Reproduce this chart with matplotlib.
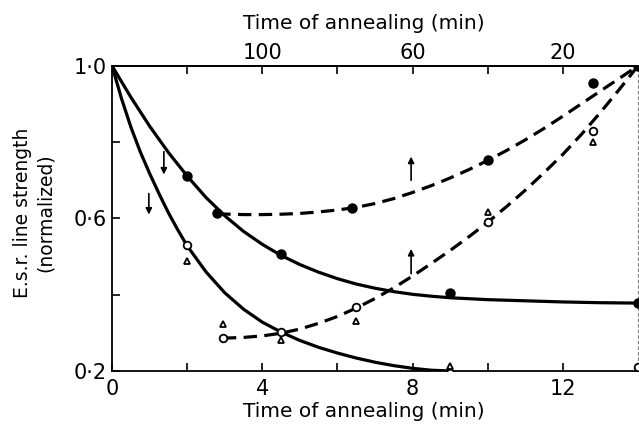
import matplotlib
matplotlib.use("Agg")
import matplotlib.pyplot as plt

# ---- data ----
# solid decay curves
solid_upper_x = [0, 0.5, 1, 1.5, 2, 2.5, 3, 3.5, 4, 4.5, 5, 5.5, 6, 6.5, 7, 7.5, 8, 8.5, 9, 10, 11, 12, 13, 14]
solid_upper_y = [1.0, 0.918, 0.842, 0.773, 0.711, 0.655, 0.607, 0.566, 0.532, 0.503, 0.479, 0.459,
                 0.442, 0.428, 0.417, 0.408, 0.401, 0.396, 0.392, 0.387, 0.384, 0.381, 0.379, 0.378]
solid_lower_x = [0, 0.25, 0.5, 0.75, 1, 1.25, 1.5, 1.75, 2, 2.5, 3, 3.5, 4, 4.5, 5, 5.5, 6, 6.5, 7,
                 7.5, 8, 8.5, 9]
solid_lower_y = [1.0, 0.915, 0.84, 0.775, 0.718, 0.665, 0.615, 0.57, 0.528, 0.46, 0.405, 0.362, 0.328,
                 0.302, 0.28, 0.262, 0.247, 0.234, 0.223, 0.214, 0.207, 0.202, 0.2]
# dashed recovery curves
dash_upper_x = [2.8, 3.5, 4, 4.5, 5, 5.5, 6, 6.5, 7, 7.5, 8, 8.5, 9, 9.5, 10, 10.5, 11, 11.5, 12,
                12.5, 13, 13.5, 14]
dash_upper_y = [0.612, 0.61, 0.61, 0.611, 0.613, 0.617, 0.622, 0.629, 0.639, 0.652, 0.668, 0.686,
                0.706, 0.728, 0.752, 0.778, 0.806, 0.836, 0.868, 0.901, 0.934, 0.967, 1.0]
dash_lower_x = [2.95, 3.5, 4, 4.5, 5, 5.5, 6, 6.5, 7, 7.5, 8, 8.5, 9, 9.5, 10, 10.5, 11, 11.5, 12,
                12.5, 13, 13.5, 14]
dash_lower_y = [0.286, 0.288, 0.292, 0.299, 0.31, 0.325, 0.343, 0.365, 0.39, 0.418, 0.449, 0.482,
                0.516, 0.552, 0.59, 0.631, 0.674, 0.72, 0.768, 0.821, 0.878, 0.938, 1.0]
# measured points
filled_x = [2.0, 2.8, 4.5, 9.0, 14.0, 6.4, 10.0, 12.8, 14.0]
filled_y = [0.711, 0.614, 0.507, 0.404, 0.378, 0.627, 0.752, 0.955, 1.0]
open_x = [2.0, 4.5, 9.0, 14.0, 2.95, 6.5, 10.0, 12.8]
open_y = [0.53, 0.302, 0.195, 0.21, 0.286, 0.367, 0.59, 0.83]
tri_x = [2.0, 2.95, 4.5, 6.5, 9.0, 10.0, 12.8]
tri_y = [0.488, 0.323, 0.28, 0.33, 0.213, 0.617, 0.80]
# arrows: (x, y_start, y_end)
arrows = [(1.38, 0.775, 0.715), (0.98, 0.665, 0.61), (7.96, 0.70, 0.762), (7.96, 0.455, 0.52)]

x_ticks = [0, 2, 4, 6, 8, 10, 12]
x_tick_labels = ['0', '', '4', '', '8', '', '12']
y_ticks = [0.2, 0.4, 0.6, 0.8, 1.0]
y_tick_labels = ['0·2', '', '0·6', '', '1·0']
top_ticks = [120, 100, 80, 60, 40, 20]
top_tick_labels = ['', '100', '', '60', '', '20']

plt.rcParams['font.family'] = ['DejaVu Sans']

fig = plt.figure(figsize=(6.39, 4.28), dpi=100)
ax = fig.add_axes([0.1753, 0.1332, 0.8247 - 0.0015, 0.713])

lw = 2.3
ax.plot(solid_upper_x, solid_upper_y, color='black', lw=lw, solid_capstyle='round', solid_joinstyle='round')
ax.plot(solid_lower_x, solid_lower_y, color='black', lw=lw, solid_capstyle='round', solid_joinstyle='round')
ax.plot(dash_upper_x, dash_upper_y, color='black', lw=lw, linestyle=(0, (4.2, 2.3)))
ax.plot(dash_lower_x, dash_lower_y, color='black', lw=lw, linestyle=(0, (4.2, 2.3)))

ax.plot(filled_x, filled_y, 'o', color='black', ms=6.5, zorder=5)
ax.plot(open_x, open_y, 'o', mfc='white', mec='black', mew=1.3, ms=5.5, zorder=5)
ax.plot(tri_x, tri_y, '^', mfc='white', mec='black', mew=1.3, ms=4.5, zorder=5)

for xa, y0, y1 in arrows:
    ax.annotate('', xy=(xa, y1), xytext=(xa, y0),
                arrowprops=dict(arrowstyle='-|>', color='black', lw=1.2,
                                mutation_scale=9, shrinkA=0, shrinkB=0))

ax.set_xlim(0, 14)
ax.set_ylim(0.2, 1.0)

for s in ['left', 'bottom', 'top']:
    ax.spines[s].set_linewidth(1.3)
ax.spines['right'].set_linewidth(0.8)
ax.spines['right'].set_linestyle((0, (2, 3)))
ax.spines['right'].set_color('#777777')

ax.set_xticks(x_ticks)
ax.set_xticklabels(x_tick_labels)
ax.set_yticks(y_ticks)
ax.set_yticklabels(y_tick_labels)
ax.tick_params(axis='both', direction='in', length=6, width=1.2, labelsize=15)
ax.tick_params(axis='y', pad=4)
ax.tick_params(axis='x', pad=6)

ax.set_xlabel('Time of annealing (min)', fontsize=14.5)
ax.xaxis.set_label_coords(0.478, -0.1)
ax.set_ylabel('E.s.r. line strength\n(normalized)', fontsize=13.5, linespacing=1.25)
ax.yaxis.set_label_coords(-0.108, 0.518)

sec = ax.secondary_xaxis('top', functions=(lambda x: 140 - 10 * x, lambda t: (140 - t) / 10))
sec.set_xticks(top_ticks)
sec.set_xticklabels(top_tick_labels)
sec.tick_params(direction='in', length=6, width=1.2, labelsize=15, pad=2)
sec.spines['top'].set_linewidth(1.3)
sec.set_xlabel('Time of annealing (min)', fontsize=14.5, labelpad=10)
sec.xaxis.label.set_x(0.478)

fig.savefig('out.png', dpi=100)
